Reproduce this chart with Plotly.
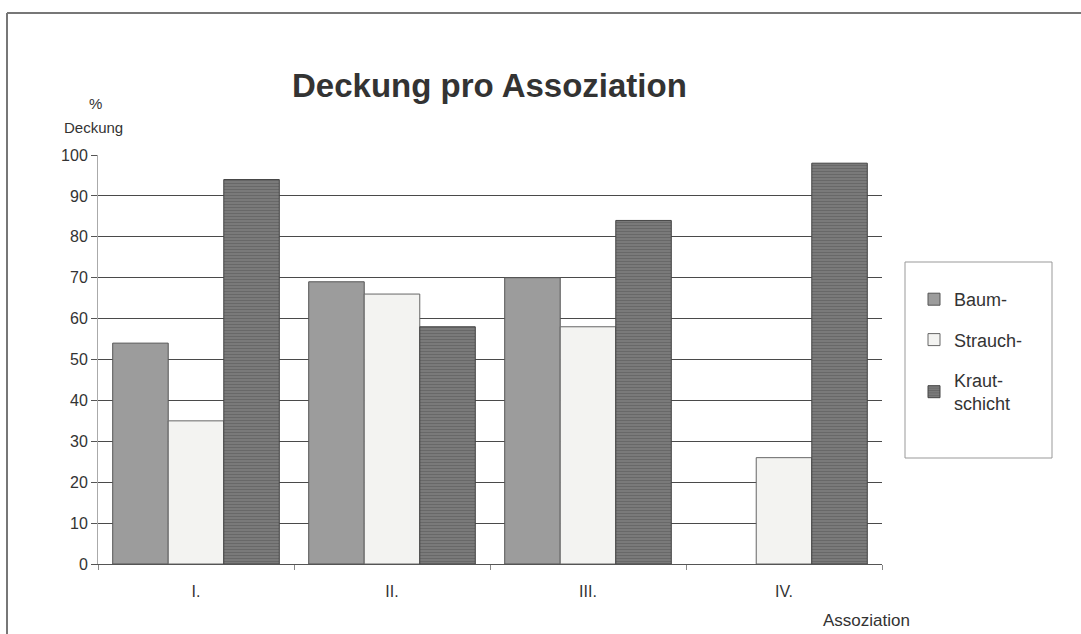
import plotly.graph_objects as go

categories = ["I.", "II.", "III.", "IV."]
baum = [54, 69, 70, 0]
strauch = [35, 66, 58, 26]
kraut = [94, 58, 84, 98]
y_ticks = list(range(0, 101, 10))

W, H = 1081, 634
L, R, T, B = 98, 199, 155, 70
pw, ph = W - L - R, H - T - B


def px_to_paper(x, y):
    return (x - L) / pw, (H - B - y) / ph


def outline(values, width):
    # no outline on empty bars
    return [width if v > 0 else 0 for v in values]


font = "Liberation Sans, Arial, sans-serif"
ink = "#333333"

fig = go.Figure()
fig.add_trace(go.Bar(
    x=categories, y=baum, name="Baum-", legendgroup="a",
    marker=dict(color="#9c9c9c", line=dict(color="#555555", width=outline(baum, 1))),
))
fig.add_trace(go.Bar(
    x=categories, y=strauch, name="Strauch-", legendgroup="b",
    marker=dict(color="#f3f3f1", line=dict(color="#666666", width=outline(strauch, 1))),
))
fig.add_trace(go.Bar(
    x=categories, y=kraut, name="Kraut-<br>schicht", legendgroup="c",
    marker=dict(color="#6e6e6e", line=dict(color="#444444", width=outline(kraut, 1)),
                pattern=dict(shape="-", fgcolor="#555555", bgcolor="#7a7a7a",
                             size=3, solidity=0.35)),
))

shapes = []
# outer frame: top and left edges
x0, y0 = px_to_paper(7, 13)
x1, _ = px_to_paper(W + 5, 13)
_, y1 = px_to_paper(7, H + 5)
shapes.append(dict(type="line", xref="paper", yref="paper", x0=x0, y0=y0, x1=x1, y1=y0,
                   line=dict(color="#777777", width=2)))
shapes.append(dict(type="line", xref="paper", yref="paper", x0=x0, y0=y0, x1=x0, y1=y1,
                   line=dict(color="#777777", width=2)))
# legend box
lx0, ly0 = px_to_paper(905, 262)
lx1, ly1 = px_to_paper(1052, 458)
shapes.append(dict(type="rect", xref="paper", yref="paper", x0=lx0, y0=ly0, x1=lx1, y1=ly1,
                   line=dict(color="#999999", width=1), fillcolor="white", layer="below"))


def note(text, x, y, size, bold=False):
    px, py = px_to_paper(x, y)
    return dict(text=f"<b>{text}</b>" if bold else text, x=px, y=py,
                xref="paper", yref="paper", xanchor="center", yanchor="middle",
                showarrow=False, font=dict(family=font, size=size, color=ink))


fig.update_layout(
    width=W, height=H,
    margin=dict(l=L, r=R, t=T, b=B, autoexpand=False),
    paper_bgcolor="white", plot_bgcolor="white",
    font=dict(family=font, size=15, color=ink),
    barmode="group", bargap=0.15, bargroupgap=0,
    showlegend=True,
    legend=dict(
        x=(914 - L) / pw, y=(H - B - 281) / ph, xanchor="left", yanchor="top",
        borderwidth=0, bgcolor="rgba(0,0,0,0)",
        font=dict(family=font, size=18, color=ink),
        tracegroupgap=14, itemwidth=30,
    ),
    xaxis=dict(
        showgrid=False, showline=True, linecolor="#555555", linewidth=1,
        ticks="outside", tickson="boundaries", ticklen=5, tickcolor="#888888",
        tickfont=dict(family=font, size=16, color=ink), ticklabelstandoff=13,
    ),
    yaxis=dict(
        range=[0, 100], tickvals=y_ticks, showgrid=True, gridcolor="#4a4a4a", gridwidth=1,
        showline=True, linecolor="#aaaaaa", linewidth=1,
        ticks="outside", ticklen=6, tickcolor="#555555",
        tickfont=dict(family=font, size=16, color=ink), zeroline=False,
    ),
    shapes=shapes,
    annotations=[
        note("Deckung pro Assoziation", 489, 85, 33, bold=True),
        note("%", 95, 104, 15),
        note("Deckung", 93, 128, 15),
        note("Assoziation", 866, 620, 17),
    ],
)

fig.write_html("out.html")
